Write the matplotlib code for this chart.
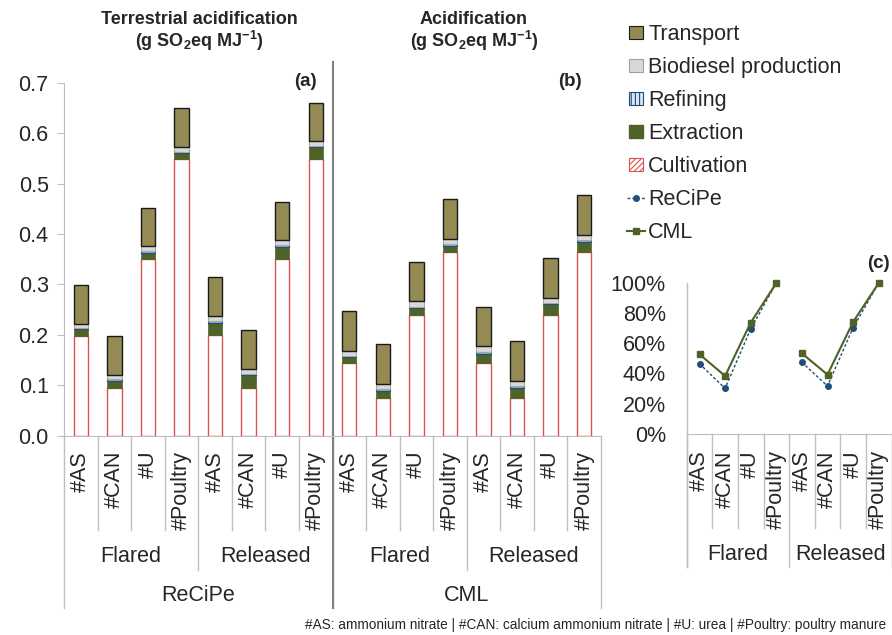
import matplotlib
matplotlib.use('Agg')
import numpy as np
import matplotlib.pyplot as plt
import matplotlib.transforms as mtrans
from matplotlib.patches import Patch, Rectangle
from matplotlib.lines import Line2D
from matplotlib.legend_handler import HandlerPatch

# categories
fertilisers = ['#AS', '#CAN', '#U', '#Poultry']
gas_options = ['Flared', 'Released']
methods = ['ReCiPe', 'CML']

# ReCiPe (panel a), order: Flared AS,CAN,U,Poultry then Released AS,CAN,U,Poultry
recipe_cultivation = [0.198, 0.095, 0.350, 0.548, 0.200, 0.094, 0.350, 0.548]
recipe_extraction = [0.013, 0.014, 0.013, 0.012, 0.024, 0.026, 0.025, 0.024]
recipe_refining = [0.003, 0.003, 0.003, 0.003, 0.003, 0.003, 0.003, 0.003]
recipe_biodiesel = [0.007, 0.008, 0.010, 0.009, 0.010, 0.009, 0.010, 0.010]
recipe_transport = [0.077, 0.078, 0.076, 0.078, 0.077, 0.077, 0.076, 0.076]

# CML (panel b)
cml_cultivation = [0.144, 0.075, 0.240, 0.364, 0.144, 0.075, 0.240, 0.364]
cml_extraction = [0.012, 0.014, 0.013, 0.013, 0.019, 0.020, 0.021, 0.021]
cml_refining = [0.003, 0.003, 0.003, 0.003, 0.003, 0.003, 0.003, 0.003]
cml_biodiesel = [0.010, 0.010, 0.011, 0.010, 0.012, 0.011, 0.010, 0.010]
cml_transport = [0.079, 0.079, 0.078, 0.079, 0.077, 0.079, 0.078, 0.079]

# panel c: totals relative to #Poultry (%)
recipe_relative = [46.4, 30.1, 69.5, 100, 47.4, 31.6, 70.4, 100]
cml_relative = [52.7, 38.3, 73.7, 100, 53.3, 39.2, 74.1, 100]

footnote = ('#AS: ammonium nitrate | #CAN: calcium ammonium nitrate | '
            '#U: urea | #Poultry: poultry manure')

TXT = '#262626'
LIGHT = '#BFBFBF'
plt.rcParams['font.family'] = ['Liberation Sans', 'DejaVu Sans']
plt.rcParams['mathtext.fontset'] = 'custom'
plt.rcParams['mathtext.rm'] = 'Liberation Sans'
plt.rcParams['mathtext.bf'] = 'Liberation Sans:bold'
plt.rcParams['hatch.linewidth'] = 0.8
plt.rcParams['text.color'] = TXT

W, H = 892, 635
fig = plt.figure(figsize=(W / 100, H / 100), dpi=100)


def fx(px):
    return px / W


def fy(py):
    return 1 - py / H


FS = 15.5

# ---- main chart (a) + (b)
ax = fig.add_axes([fx(64), fy(435.7), fx(601) - fx(64), fy(62.7) - fy(435.7)])
xpos = np.arange(16)
layers = [
    ('Cultivation', recipe_cultivation + cml_cultivation,
     dict(facecolor='white', edgecolor='#D9534F', linewidth=1)),
    ('Extraction', recipe_extraction + cml_extraction,
     dict(facecolor='#4F6228', edgecolor='#4F6228', linewidth=0.5)),
    ('Refining', recipe_refining + cml_refining,
     dict(facecolor='#8EB4E3', edgecolor='#1F4E79', linewidth=0.8)),
    ('Biodiesel production', recipe_biodiesel + cml_biodiesel,
     dict(facecolor='#D9D9D9', edgecolor='#A6A6A6', linewidth=0.8)),
    ('Transport', recipe_transport + cml_transport,
     dict(facecolor='#948A54', edgecolor='#1a1a1a', linewidth=1)),
]
bottom = np.zeros(16)
for name, vals, style in layers:
    vals = np.array(vals)
    ax.bar(xpos, vals, 0.43, bottom=bottom, **style)
    bottom += vals

ax.set_xlim(-0.5, 15.5)
ax.set_ylim(0, 0.74)
for s in ['top', 'right']:
    ax.spines[s].set_visible(False)
ax.spines['left'].set_bounds(0, 0.7)
ax.spines['left'].set_color(LIGHT)
ax.spines['bottom'].set_color(LIGHT)
ax.set_yticks(np.arange(0, 0.71, 0.1))
ax.set_yticklabels([f'{v:.1f}' for v in np.arange(0, 0.71, 0.1)])
ax.tick_params(axis='y', color=LIGHT, length=5, pad=6, labelsize=FS, labelcolor=TXT)
ax.set_xticks(xpos)
ax.set_xticklabels(fertilisers * 4, rotation=90, va='top', ha='center')
ax.tick_params(axis='x', length=0, pad=11, labelsize=FS, labelcolor=TXT)

blend = mtrans.blended_transform_factory(ax.transData, fig.transFigure)
y_axis = fy(435.7)
for b in np.arange(-0.5, 16, 1):
    if b in (-0.5, 7.5, 15.5):
        low = fy(608)
    elif b in (3.5, 11.5):
        low = fy(570)
    else:
        low = fy(530)
    ax.add_line(Line2D([b, b], [y_axis, low], transform=blend, color=LIGHT,
                       lw=1, clip_on=False))
ax.add_line(Line2D([7.5, 7.5], [fy(62), fy(608)], transform=blend, color='#7F7F7F',
                   lw=1.5, clip_on=False))
for i, g in enumerate(gas_options * 2):
    ax.text(4 * i + 1.5, fy(556.7), g, transform=blend, ha='center', va='center',
            fontsize=FS)
for i, m in enumerate(methods):
    ax.text(8 * i + 3.5, fy(595.7), m, transform=blend, ha='center', va='center',
            fontsize=FS)

# ---- inset (c)
ax2 = fig.add_axes([fx(686.7), fy(433.7), fx(891.5) - fx(686.7), fy(283) - fy(433.7)])
x2 = np.arange(8)
for g in range(2):
    sl = slice(4 * g, 4 * g + 4)
    ax2.plot(x2[sl], recipe_relative[sl], color='#1F4E79', lw=1, ls=(0, (2, 1.5)),
             marker='o', ms=4, clip_on=False)
    ax2.plot(x2[sl], cml_relative[sl], color='#4F6228', lw=1.5, marker='s', ms=4.5,
             clip_on=False)
ax2.set_xlim(-0.5, 7.5)
ax2.set_ylim(0, 100)
for s in ['top', 'right']:
    ax2.spines[s].set_visible(False)
ax2.spines['left'].set_color(LIGHT)
ax2.spines['bottom'].set_color(LIGHT)
ax2.set_yticks(range(0, 101, 20))
ax2.set_yticklabels([f'{v}%' for v in range(0, 101, 20)])
ax2.tick_params(axis='y', length=0, pad=15, labelsize=FS, labelcolor=TXT)
ax2.set_xticks(x2)
ax2.set_xticklabels(fertilisers * 2, rotation=90, va='top', ha='center')
ax2.tick_params(axis='x', length=0, pad=12, labelsize=FS, labelcolor=TXT)

blend2 = mtrans.blended_transform_factory(ax2.transData, fig.transFigure)
for b in np.arange(-0.5, 8, 1):
    low = fy(567) if b in (-0.5, 3.5, 7.5) else fy(528)
    ax2.add_line(Line2D([b, b], [fy(433.7), low], transform=blend2, color=LIGHT,
                        lw=1, clip_on=False))
ax2.add_line(Line2D([-0.5, -0.5], [fy(283), fy(567)], transform=blend2, color=LIGHT,
                    lw=1, clip_on=False))
for i, g in enumerate(gas_options):
    ax2.text(4 * i + 1.5, fy(555), g, transform=blend2, ha='center', va='center',
             fontsize=FS)

# ---- titles and panel letters
fig.text(fx(199), fy(19), 'Terrestrial acidification', ha='center', va='center',
         fontsize=13, weight='bold')
fig.text(fx(199), fy(41), r'(g SO$_\mathbf{2}$eq MJ$^\mathbf{-1}$)', ha='center',
         va='center', fontsize=13, weight='bold')
fig.text(fx(474), fy(19), 'Acidification', ha='center', va='center',
         fontsize=13, weight='bold')
fig.text(fx(474), fy(41), r'(g SO$_\mathbf{2}$eq MJ$^\mathbf{-1}$)', ha='center',
         va='center', fontsize=13, weight='bold')
fig.text(fx(305), fy(82), '(a)', ha='center', va='center', fontsize=13.5, weight='bold')
fig.text(fx(570), fy(81), '(b)', ha='center', va='center', fontsize=13.5, weight='bold')
fig.text(fx(878), fy(263), '(c)', ha='center', va='center', fontsize=13.5, weight='bold')

fig.text(fx(305), fy(625), footnote, ha='left', va='center', fontsize=9.8)


# ---- legend
def square_patch(legend, orig_handle, xdescent, ydescent, width, height, fontsize):
    return Rectangle((-xdescent + (width - height) / 2, -ydescent), height, height)


handles = [
    Patch(facecolor='#948A54', edgecolor='#1a1a1a', linewidth=0.8),
    Patch(facecolor='#D9D9D9', edgecolor='#A0A0A0', linewidth=0.8),
    Patch(facecolor='#DCE6F2', edgecolor='#1F4E79', hatch='||||', linewidth=0.8),
    Patch(facecolor='#4F6228', edgecolor='#4F6228'),
    Patch(facecolor='white', edgecolor='#D9534F', hatch='//////', linewidth=0.8),
    Line2D([], [], color='#1F4E79', lw=1, ls=(0, (2, 1.5)), marker='o', ms=4),
    Line2D([], [], color='#4F6228', lw=1.5, marker='s', ms=4.5),
]
labels = ['Transport', 'Biodiesel production', 'Refining', 'Extraction',
          'Cultivation', 'ReCiPe', 'CML']
fig.legend(handles, labels, loc='upper left', bbox_to_anchor=(fx(627), fy(24)),
           frameon=False, borderpad=0, borderaxespad=0, fontsize=FS,
           handlelength=0.84, handleheight=0.56, handletextpad=0.14,
           labelspacing=0.56, labelcolor=TXT,
           handler_map={Patch: HandlerPatch(patch_func=square_patch)})

fig.savefig('out.png', dpi=100)
